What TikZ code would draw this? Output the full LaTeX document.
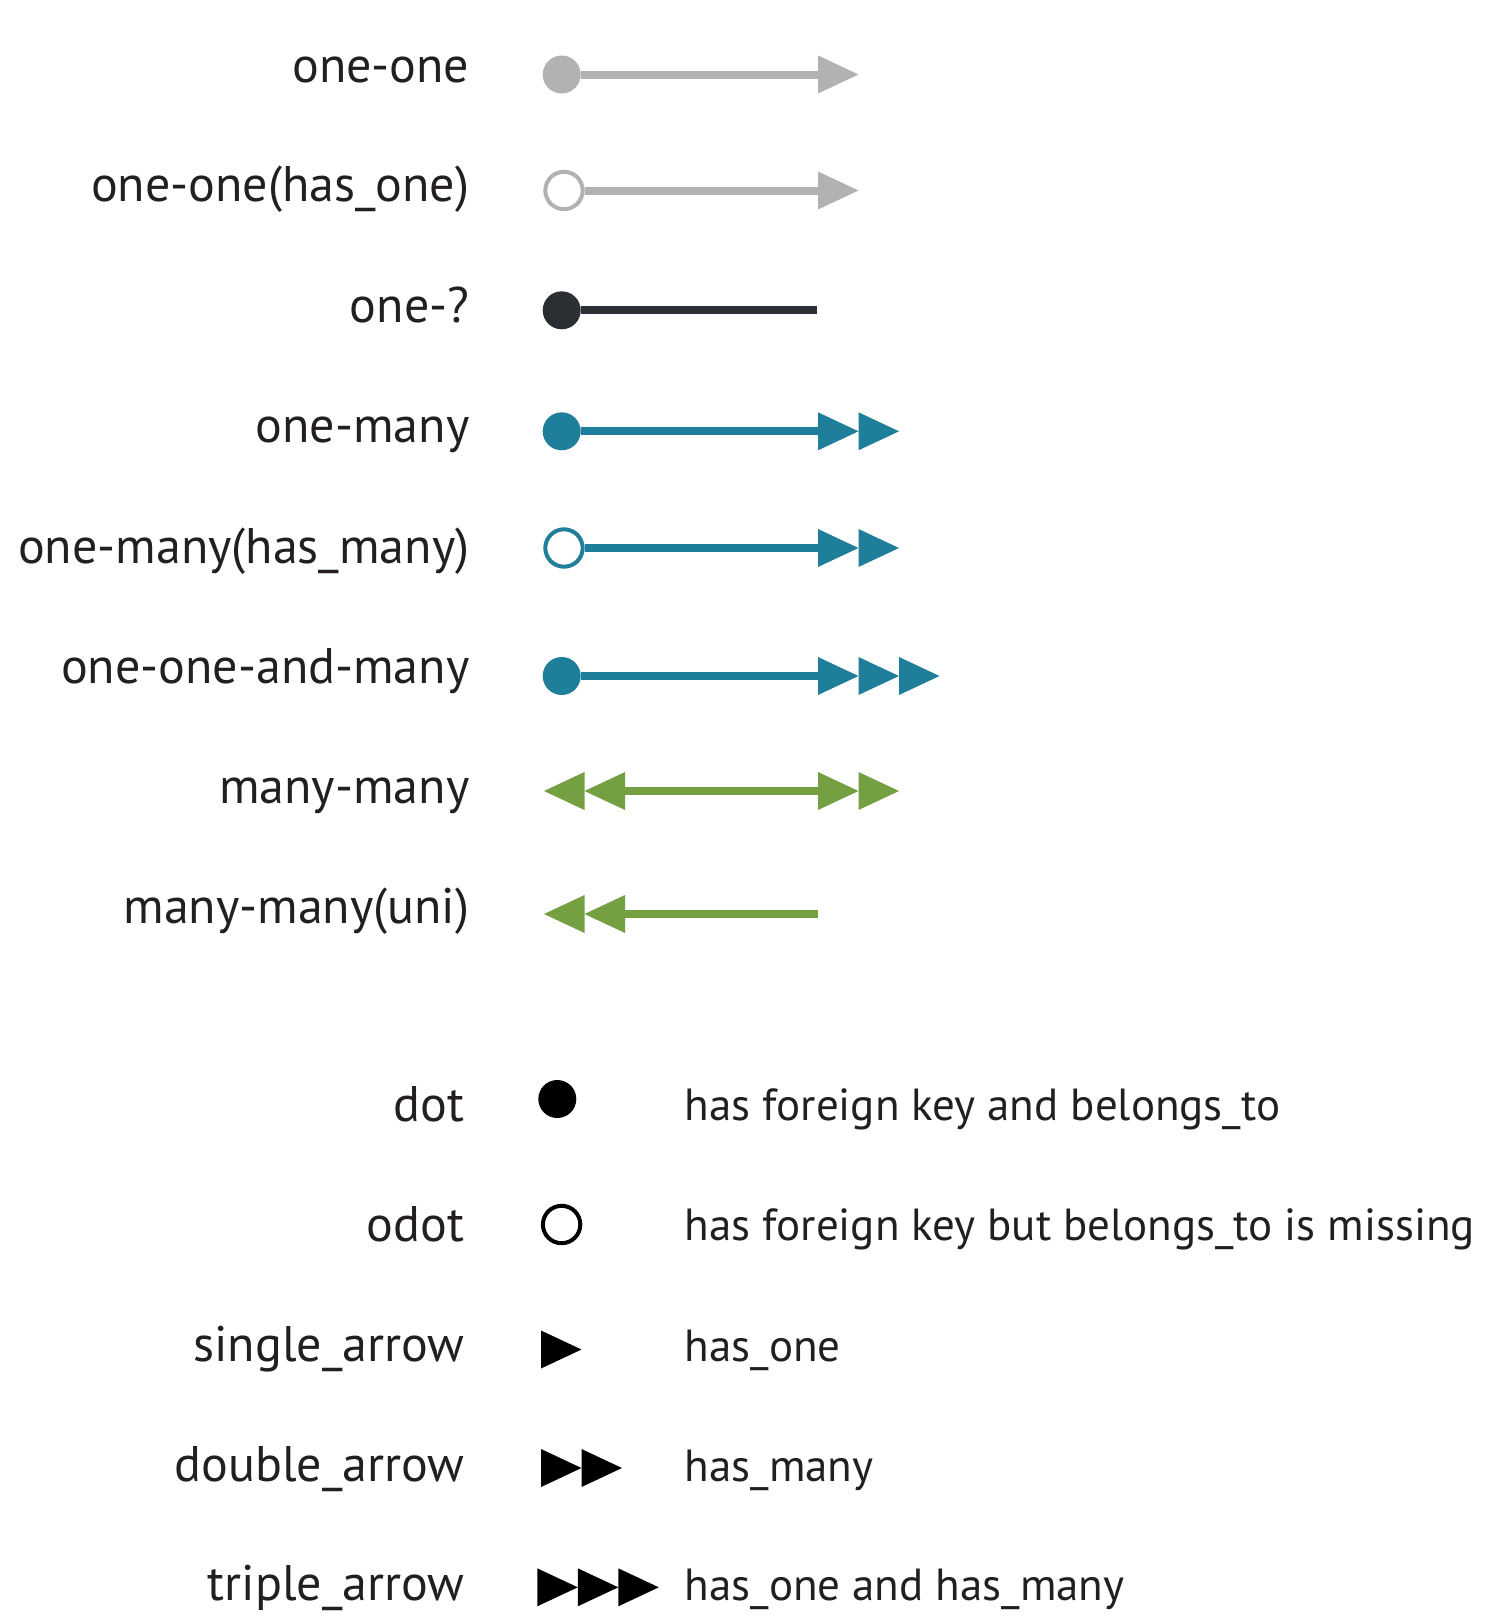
\documentclass[tikz,border=0pt]{standalone}
\usepackage{fontspec}
\setmainfont{PT Sans}
\usepackage{tikz}
\definecolor{relgray}{HTML}{B1B3B3}
\definecolor{relteal}{HTML}{1F7E99}
\definecolor{relgreen}{HTML}{74A041}
\definecolor{reldark}{HTML}{2B2F33}
\definecolor{ink}{HTML}{231F20}

\begin{document}
\begin{tikzpicture}[
    x = 1pt,
    y = -1pt,
    rowname/.style =
    { anchor    = base east,
      inner sep = 0pt,
      text      = ink,
      font      = \fontsize{50}{60}\selectfont },
    meaning/.style =
    { anchor    = base west,
      inner sep = 0pt,
      text      = ink,
      font      = \fontsize{45}{54}\selectfont },
    dot/.style =
    { shape        = circle,
      fill         = #1,
      inner sep    = 0pt,
      minimum size = 38pt },
    odot/.style =
    { shape        = circle,
      draw         = #1,
      fill         = white,
      line width   = 4pt,
      inner sep    = 0pt,
      minimum size = 37.4pt },
    relation/.style =
    { draw       = #1,
      line width = 8pt },
    arrowhead/.pic =
    { \fill (0,-19) -- (40.5,0) -- (0,19) -- cycle; }
  ]
  \useasboundingbox (0,0) rectangle (1510,1622);

  \node[rowname] (oolabel) at (469.5,82.7) {one-one};
  \node[dot=relgray] (oo) at (561.7,74.5) {};
  \coordinate (ooend) at (818,74.5);
  \draw[relation=relgray] (oo) -- (ooend);
  \pic[relgray] at (ooend) {arrowhead};

  \node[rowname] (hoolabel) at (469.5,201.7) {one-one(has\_one)};
  \node[odot=relgray] (hoo) at (564,190.5) {};
  \coordinate (hooend) at (818,190.5);
  \draw[relation=relgray] (hoo) -- (hooend);
  \pic[relgray] at (hooend) {arrowhead};

  \node[rowname] (oqlabel) at (469.5,322.7) {one-?};
  \node[dot=reldark] (oq) at (561.7,310.3) {};
  \coordinate (oqend) at (817,310.3);
  \draw[relation=reldark] (oq) -- (oqend);

  \node[rowname] (omlabel) at (469.5,442.6) {one-many};
  \node[dot=relteal] (om) at (561.7,431.3) {};
  \coordinate (omend) at (818,431.3);
  \draw[relation=relteal] (om) -- (omend);
  \foreach \i in {0,1}
    \pic[relteal] at ({818+40.5*\i},431.3) {arrowhead};

  \node[rowname] (hmlabel) at (469.5,563.6) {one-many(has\_many)};
  \node[odot=relteal] (hm) at (564,548) {};
  \coordinate (hmend) at (818,548);
  \draw[relation=relteal] (hm) -- (hmend);
  \foreach \i in {0,1}
    \pic[relteal] at ({818+40.5*\i},548) {arrowhead};

  \node[rowname] (oomlabel) at (469.5,683.6) {one-one-and-many};
  \node[dot=relteal] (oom) at (561.7,676) {};
  \coordinate (oomend) at (818,676);
  \draw[relation=relteal] (oom) -- (oomend);
  \foreach \i in {0,1,2}
    \pic[relteal] at ({818+40.5*\i},676) {arrowhead};

  \node[rowname] (mmlabel) at (469.5,803.6) {many-many};
  \coordinate (mmstart) at (625,791);
  \coordinate (mmend) at (818,791);
  \draw[relation=relgreen] (mmstart) -- (mmend);
  \foreach \i in {0,1}
  { \pic[relgreen] at ({818+40.5*\i},791) {arrowhead};
    \pic[relgreen, xscale=-1] at ({625-40.5*\i},791) {arrowhead}; }

  \node[rowname] (mulabel) at (469.5,923.5) {many-many(uni)};
  \coordinate (mustart) at (625,914);
  \coordinate (muend) at (817.7,914);
  \draw[relation=relgreen] (mustart) -- (muend);
  \foreach \i in {0,1}
    \pic[relgreen, xscale=-1] at ({625-40.5*\i},914) {arrowhead};

  \node[rowname] (dotlabel) at (464.5,1121) {dot};
  \node[dot=black] (ldot) at (557.3,1099) {};
  \node[meaning] (dotnote) at (684.6,1120) {has foreign key and belongs\_to};

  \node[rowname] (odotlabel) at (464.5,1241) {odot};
  \node[odot=black] (lodot) at (561.6,1224.5) {};
  \node[meaning] (odotnote) at (684.6,1240) {has foreign key but belongs\_to is missing};

  \node[rowname] (singlelabel) at (464.5,1361) {single\_arrow};
  \pic at (541,1349.5) {arrowhead};
  \node[meaning] (singlenote) at (684.6,1361) {has\_one};

  \node[rowname] (doublelabel) at (464.5,1481) {double\_arrow};
  \foreach \i in {0,1}
    \pic at ({541+40.5*\i},1468) {arrowhead};
  \node[meaning] (doublenote) at (684.6,1481) {has\_many};

  \node[rowname] (triplelabel) at (464.5,1600) {triple\_arrow};
  \foreach \i in {0,1,2}
    \pic at ({537.3+40.5*\i},1587.3) {arrowhead};
  \node[meaning] (triplenote) at (684.6,1600) {has\_one and has\_many};
\end{tikzpicture}
\end{document}
